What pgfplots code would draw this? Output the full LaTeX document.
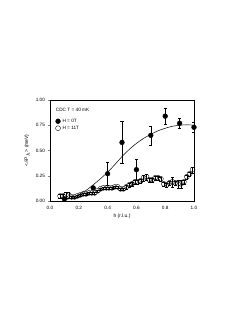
\documentclass[border=0pt]{standalone}
\usepackage{fontspec}
\setmainfont{Liberation Sans}
\usepackage{pgfplots}
\pgfplotsset{compat=1.18}
\begin{document}
\begin{tikzpicture}[x=1pt,y=1pt]
\path[use as bounding box] (0,0) rectangle (244,316);
\begin{axis}[
  at={(50pt,115pt)}, anchor=south west,
  scale only axis, width=144pt, height=101pt,
  xmin=0, xmax=1, ymin=0, ymax=1,
  xtick={0,0.2,0.4,0.6,0.8,1.0},
  ytick={0,0.25,0.5,0.75,1.0},
  xticklabel style={/pgf/number format/.cd,fixed,fixed zerofill,precision=1},
  yticklabel style={/pgf/number format/.cd,fixed,fixed zerofill,precision=2},
  /pgf/number format/assume math mode=true,
  tick label style={font=\fontsize{4.7}{5.5}\selectfont},
  label style={font=\fontsize{5}{6}\selectfont},
  xlabel={h (r.l.u.)},
  ylabel={<$\delta$P$_h$> (meV)},
  xlabel style={yshift=2.5pt},
  ylabel style={yshift=-1pt},
  tick align=outside, xtick pos=left, ytick pos=left,
  major tick length=1.5pt,
  axis line style={line width=0.4pt},
  legend style={at={(0.03,0.845)}, anchor=north west, draw=none, fill=none,
     font=\fontsize{4.7}{5.5}\selectfont, row sep=-1.8pt, inner sep=1pt},
  legend cell align=left,
]
\addplot[only marks, mark=*, mark size=2.4pt, black,
  error bars/.cd, y dir=both, y explicit, error bar style={line width=0.3pt},
  error mark options={rotate=90, mark size=1.6pt, line width=0.3pt}]
  table[x=x, y=y, y error=e] {
x y e
0.1 0.02 0
0.3 0.13 0
0.4 0.27 0.11
0.5 0.58 0.21
0.6 0.31 0.10
0.7 0.65 0.095
0.8 0.84 0.075
0.9 0.77 0.05
1.0 0.73 0.05
};
\addlegendentry{H = 0T}
\addplot[only marks, mark=o, mark size=2.5pt, black, mark options={line width=0.35pt},
  error bars/.cd, y dir=both, y explicit, error bar style={line width=0.3pt},
  error mark options={rotate=90, mark size=1.6pt, line width=0.3pt}]
  table[x=x, y=y, y error=e] {
x y e
0.07 0.05 0.02
0.09 0.05 0.02
0.11 0.06 0.03
0.13 0.06 0.03
0.15 0.04 0.01
0.17 0.04 0.01
0.19 0.05 0.01
0.21 0.06 0.01
0.23 0.07 0.01
0.25 0.07 0.01
0.27 0.08 0.01
0.29 0.08 0.01
0.31 0.08 0.01
0.33 0.10 0.01
0.35 0.12 0.01
0.37 0.13 0.01
0.39 0.13 0.01
0.41 0.13 0.01
0.43 0.13 0.01
0.45 0.14 0.01
0.47 0.14 0.01
0.49 0.12 0.01
0.51 0.12 0.01
0.53 0.14 0.02
0.55 0.16 0.02
0.57 0.17 0.02
0.59 0.19 0.02
0.61 0.19 0.02
0.63 0.20 0.02
0.65 0.23 0.03
0.67 0.24 0.03
0.69 0.21 0.02
0.71 0.21 0.02
0.73 0.23 0.02
0.75 0.23 0.02
0.77 0.22 0.02
0.79 0.17 0.02
0.81 0.16 0.02
0.83 0.18 0.02
0.85 0.19 0.05
0.87 0.18 0.02
0.89 0.17 0.04
0.91 0.17 0.04
0.93 0.19 0.02
0.95 0.24 0.02
0.97 0.27 0.02
0.99 0.31 0.03
};
\addlegendentry{H = 11T}
\addplot[black, line width=0.5pt, smooth, no marks, forget plot] coordinates {
(0.1,0.01) (0.15,0.03) (0.2,0.065) (0.25,0.105) (0.3,0.16) (0.35,0.22)
(0.4,0.285) (0.45,0.36) (0.5,0.44) (0.55,0.51) (0.6,0.57) (0.65,0.62)
(0.7,0.66) (0.75,0.695) (0.8,0.72) (0.85,0.74) (0.9,0.75) (0.95,0.755) (1.0,0.75)
};
\node[anchor=west, font=\fontsize{4.7}{5.5}\selectfont, inner sep=0pt] at (rel axis cs:0.04,0.9) {CDC T = 40 mK};
\end{axis}
\end{tikzpicture}
\end{document}
